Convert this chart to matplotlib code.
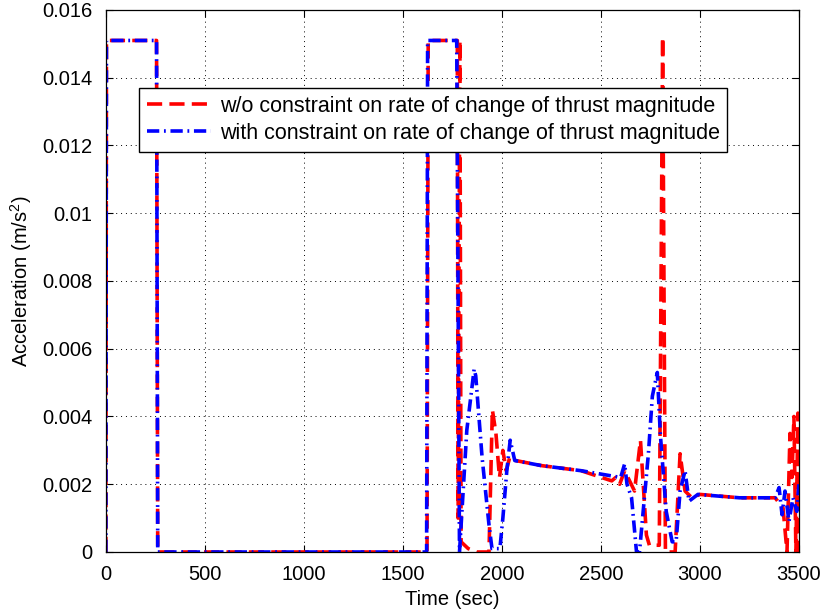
import matplotlib.pyplot as plt
from matplotlib.ticker import FuncFormatter

# datos (tiempo en s, aceleracion en m/s^2)
t_rojo = [0, 3, 256, 262, 1622, 1628, 1775, 1779, 1788, 1794, 1830, 1872,
          1935, 1952, 1970, 1988, 2005, 2022, 2040, 2070, 2200, 2400, 2555,
          2575, 2595, 2620, 2645, 2670, 2700, 2730, 2745, 2795, 2812, 2826,
          2875, 2900, 2925, 2960, 3000, 3200, 3380, 3420, 3440, 3455, 3465,
          3475, 3485, 3495, 3500]
a_rojo = [0, 0.0151, 0.0151, 0, 0, 0.0151, 0.0151, 0.001, 0.0151, 0.0003,
          0.0001, 0.0, 0.0, 0.0042, 0.0035, 0.0022, 0.0030, 0.0024, 0.0028,
          0.0027, 0.00255, 0.0024, 0.0021, 0.0022, 0.0020, 0.0024, 0.0021,
          0.0018, 0.0033, 0.0005, 0.0002, 0.0002, 0.0152, 0.0, 0.0, 0.0029,
          0.0018, 0.0016, 0.0017, 0.0016, 0.0016, 0.0013, 0.0, 0.0035, 0.0022,
          0.0040, 0.0, 0.0041, 0.0]

t_azul = [0, 3, 256, 262, 1620, 1625, 1772, 1786, 1823, 1860, 1868, 1900,
          1935, 1950, 1990, 2005, 2025, 2042, 2065, 2200, 2400, 2600, 2620,
          2632, 2655, 2680, 2695, 2740, 2760, 2785, 2800, 2830, 2860, 2880,
          2900, 2925, 2945, 2990, 3200, 3380, 3400, 3415, 3430, 3450, 3470,
          3490, 3500]
a_azul = [0, 0.0151, 0.0151, 0, 0, 0.0151, 0.0151, 0.0, 0.0036, 0.0054,
          0.0052, 0.0028, 0.0008, 0.0001, 0.0001, 0.0010, 0.0024, 0.0033,
          0.0027, 0.00255, 0.0024, 0.0022, 0.0026, 0.0020, 0.0016, 0.0, 0.0,
          0.0029, 0.0046, 0.0053, 0.0035, 0.0012, 0.0003, 0.0003, 0.0018,
          0.0024, 0.0015, 0.0017, 0.0016, 0.0016, 0.0019, 0.0011, 0.0018,
          0.0009, 0.0016, 0.0012, 0.0020]

etiqueta_rojo = 'w/o constraint on rate of change of thrust magnitude'
etiqueta_azul = 'with constraint on rate of change of thrust magnitude'
xticks = [0, 500, 1000, 1500, 2000, 2500, 3000, 3500]
yticks = [0, 0.002, 0.004, 0.006, 0.008, 0.01, 0.012, 0.014, 0.016]

plt.rcParams['font.family'] = ['Liberation Sans', 'DejaVu Sans']
plt.rcParams['font.size'] = 14.5
plt.rcParams['mathtext.fontset'] = 'custom'
plt.rcParams['mathtext.rm'] = 'Liberation Sans'

fig = plt.figure(figsize=(8.27, 6.09), dpi=100)
ax = fig.add_axes([0.128, 0.0936, 0.838, 0.89])

ax.plot(t_rojo, a_rojo, color='red', lw=2.6, linestyle=(0, (4.2, 2.0)),
        label=etiqueta_rojo)
ax.plot(t_azul, a_azul, color='blue', lw=2.6, linestyle=(0, (3.4, 1.3, 0.5, 1.3)),
        label=etiqueta_azul)

ax.set_xlim(0, 3500)
ax.set_ylim(0, 0.016)
ax.set_xticks(xticks)
ax.set_yticks(yticks)
ax.yaxis.set_major_formatter(FuncFormatter(lambda v, p: '%g' % round(v, 4)))
ax.tick_params(direction='in', length=5, width=0.8, top=True, right=True,
               colors='black', pad=9.5)
ax.grid(True, color='black', linestyle=(0, (1, 4)), linewidth=0.7)
for s in ax.spines.values():
    s.set_linewidth(0.9)

ax.set_xlabel('Time (sec)', labelpad=4)
ax.set_ylabel('Acceleration (m/s$^2$)', labelpad=6)

leg = ax.legend(loc='upper left', bbox_to_anchor=(0.048, 0.856),
                fancybox=False, framealpha=1, edgecolor='black',
                fontsize=15.5, handlelength=3.0, handletextpad=0.4,
                borderpad=0.35, labelspacing=0.3, borderaxespad=0)
leg.get_frame().set_linewidth(1.0)

fig.savefig('out.png', dpi=100)
